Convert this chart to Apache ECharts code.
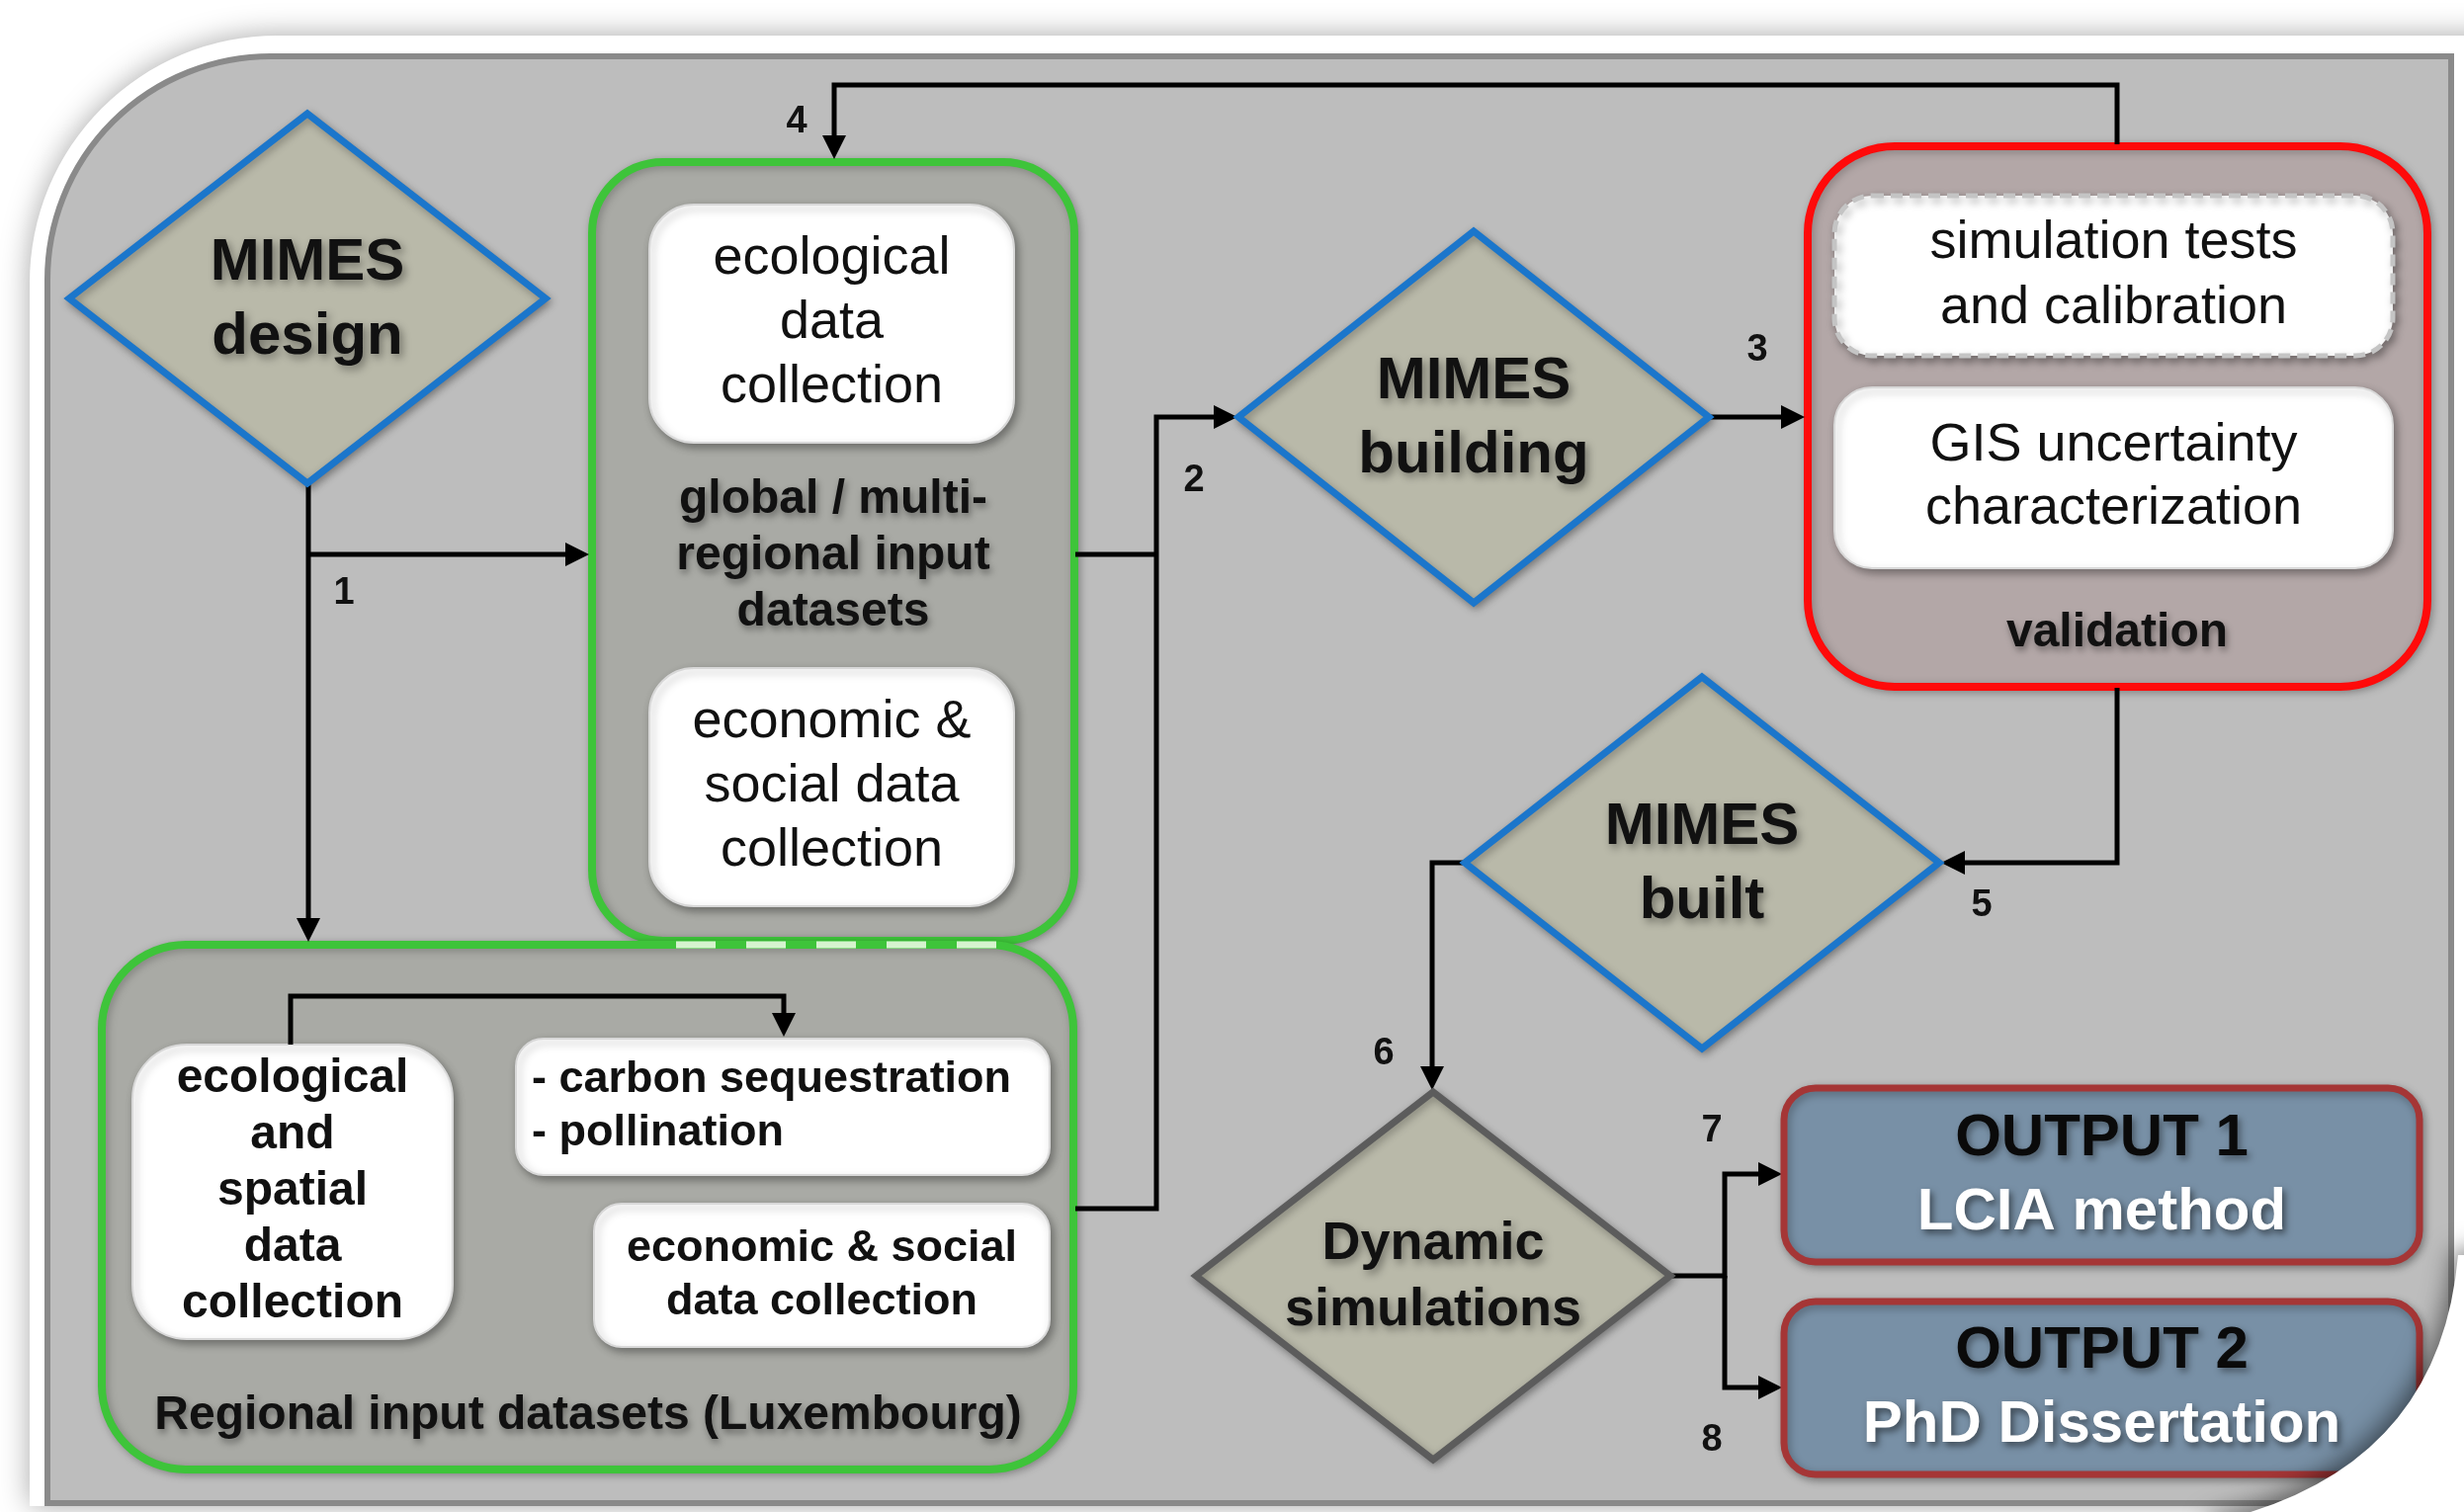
<!DOCTYPE html>
<html>
<head>
<meta charset="utf-8">
<title>MIMES workflow</title>
<script src="https://cdn.jsdelivr.net/npm/echarts@6.0.0/dist/echarts.min.js"></script>
<style>
html, body { margin: 0; padding: 0; background: #fff; }
#main { width: 2493px; height: 1530px; }
</style>
</head>
<body>
<div id="main"></div>
<script>
// ---- text content ----
var diamondLabels = ['MIMES\ndesign', 'MIMES\nbuilding', 'MIMES\nbuilt', 'Dynamic\nsimulations'];
var groupLabels = ['global / multi-\nregional input\ndatasets', 'Regional input datasets (Luxembourg)', 'validation'];
var boxLabels = [
	'ecological\ndata\ncollection',
	'economic &\nsocial data\ncollection',
	'ecological\nand\nspatial\ndata\ncollection',
	'- carbon sequestration\n- pollination',
	'economic & social\ndata collection',
	'simulation tests\nand calibration',
	'GIS uncertainty\ncharacterization'
];
var outputTitles = ['OUTPUT 1', 'OUTPUT 2'];
var outputLabels = ['LCIA method', 'PhD Dissertation'];
var stepLabels = ['1', '2', '3', '4', '5', '6', '7', '8'];

// ---- layout (diagram units, mapped through the hidden axes) ----
var diamondPos = [[311, 302, 241, 187], [1491, 422, 238, 188], [1722, 873, 240, 188], [1450, 1291, 240, 186]];
var diamondFont = [60, 60, 60, 54];
var diamondStroke = ['#1b76cb', '#1b76cb', '#1b76cb', '#5c5c5c'];
var groupPos = [[599, 164, 1087, 952], [103, 956, 1086, 1487], [1829, 148, 2456, 695]];
var groupRadius = [72, 85, 88];
var groupStroke = ['#3ec43a', '#3ec43a', '#ff0a0a'];
var groupFill = ['#a9aaa5', '#a9aaa5', '#b3a7a7'];
var groupLabelPos = [[843, 563], [595, 1433], [2142, 641]];
var boxPos = [[657, 207, 1026, 448], [657, 676, 1026, 917], [134, 1057, 458, 1355], [522, 1051, 1062, 1189],
	[601, 1218, 1062, 1363], [1856, 198, 2421, 360], [1856, 392, 2421, 575]];
var boxRadius = [45, 45, 55, 28, 28, 38, 38];
var boxFont = ['54px', '54px', 'bold 48px', 'bold 45px', 'bold 45px', '54px', '54px'];
var boxLine = [65, 65, 57, 54, 54, 66, 64];
var boxAlign = ['center', 'center', 'center', 'left', 'center', 'center', 'center'];
var boxDashed = [false, false, false, false, false, true, false];
var outputPos = [[1805, 1101, 2448, 1277], [1805, 1317, 2448, 1492]];
var stepPos = [[348, 601], [1208, 487], [1778, 355], [806, 124], [2005, 917], [1400, 1067], [1732, 1145], [1732, 1458]];
var links = [
	[[312, 490], [312, 953]],
	[[312, 561], [596, 561]],
	[[1088, 561], [1170, 561]],
	[[1088, 1223], [1170, 1223], [1170, 422], [1252, 422]],
	[[1729, 422], [1826, 422]],
	[[2142, 146], [2142, 86], [844, 86], [844, 161]],
	[[2142, 696], [2142, 873], [1964, 873]],
	[[1482, 873], [1449, 873], [1449, 1103]],
	[[1690, 1291], [1745, 1291], [1745, 1188], [1803, 1188]],
	[[1745, 1291], [1745, 1404], [1803, 1404]],
	[[294, 1057], [294, 1008], [793, 1008], [793, 1049]]
];
var linkArrow = [true, true, false, true, true, true, true, true, true, true, true];
var seam = [[684, 956], [1010, 956]];
var frameOuter = [30, 36, 2560, 1524];
var framePanel = [48, 57, 2480, 1521];
var curl = [[2487, 1270], [2468, 1488], [2240, 1540]];

var FONT = '"Liberation Sans", Arial, sans-serif';
var SHADOW = 'rgba(0,0,0,0.38)';

var chartDom = document.getElementById('main');
var myChart = echarts.init(chartDom);

function rectOf(api, b, r) {
	var p1 = api.coord([b[0], b[1]]);
	var p2 = api.coord([b[2], b[3]]);
	return { x: p1[0], y: p1[1], width: p2[0] - p1[0], height: p2[1] - p1[1], r: r };
}

function idx(arr) {
	return arr.map(function(d, i) { return [d[0], d[1], i]; });
}

function renderFrame(params, api) {
	return {
		type: 'group',
		children: [
			{ type: 'rect', shape: rectOf(api, frameOuter, [250, 0, 0, 0]),
				style: { fill: '#fff', shadowBlur: 30, shadowColor: 'rgba(0,0,0,0.35)' } },
			{ type: 'rect', shape: rectOf(api, framePanel, [226, 0, 0, 0]),
				style: { fill: '#bdbdbd', stroke: '#8a8a8a', lineWidth: 6 } }
		]
	};
}

// page curl on the lower right corner, drawn above everything
function renderCurl(params, api) {
	var a = api.coord(curl[0]), c = api.coord(curl[1]), e = api.coord(curl[2]);
	var corner = api.coord([2560, 1580]);
	return { type: 'path', shape: {
			pathData: 'M' + a[0] + ' ' + a[1] + ' Q' + c[0] + ' ' + c[1] + ' ' + e[0] + ' ' + e[1] +
				' L' + e[0] + ' ' + corner[1] + ' L' + corner[0] + ' ' + corner[1] + ' L' + corner[0] + ' ' + a[1] + ' Z'
		},
		style: { fill: '#fff', shadowBlur: 24, shadowColor: 'rgba(0,0,0,0.5)', shadowOffsetX: -5, shadowOffsetY: -5 } };
}

function renderGroup(params, api) {
	var i = api.value(2);
	var lp = api.coord(groupLabelPos[i]);
	var children = [
		{ type: 'rect', shape: rectOf(api, groupPos[i], groupRadius[i]),
			style: { fill: groupFill[i], stroke: groupStroke[i], lineWidth: 8,
				shadowBlur: 8, shadowColor: 'rgba(0,0,0,0.25)', shadowOffsetX: 2, shadowOffsetY: 2 } },
		{ type: 'text', style: { text: groupLabels[i], x: lp[0], y: lp[1], align: 'center', verticalAlign: 'middle',
			font: 'bold 48px ' + FONT, lineHeight: 57, fill: '#111',
			textShadowColor: SHADOW, textShadowBlur: 7, textShadowOffsetX: 2, textShadowOffsetY: 4 } }
	];
	if (i === 1) {
		children.push({ type: 'polyline', shape: { points: [api.coord(seam[0]), api.coord(seam[1])] },
			style: { stroke: '#d6f3cf', lineWidth: 7, lineDash: [40, 31] } });
	}
	return { type: 'group', children: children };
}

function renderBox(params, api) {
	var i = api.value(2);
	var b = boxPos[i];
	var shape = rectOf(api, b, boxRadius[i]);
	var tx = boxAlign[i] === 'left' ? shape.x + 16 : shape.x + shape.width / 2;
	return {
		type: 'group',
		children: [
			{ type: 'rect', shape: shape,
				style: { fill: '#fff', stroke: boxDashed[i] ? '#c4c4c4' : '#d8d8d8', lineWidth: boxDashed[i] ? 5 : 2,
					lineDash: boxDashed[i] ? [12, 7] : null,
					shadowBlur: 8, shadowColor: 'rgba(0,0,0,0.35)', shadowOffsetX: 3, shadowOffsetY: 4 } },
			{ type: 'text', style: { text: boxLabels[i], x: tx, y: shape.y + shape.height / 2,
				align: boxAlign[i], verticalAlign: 'middle', font: boxFont[i] + ' ' + FONT,
				lineHeight: boxLine[i], fill: '#111' } }
		]
	};
}

function renderLink(params, api) {
	var i = api.value(2);
	var pts = links[i].map(function(p) { return api.coord(p); });
	var children = [];
	if (linkArrow[i]) {
		var n = pts.length;
		var tip = pts[n - 1], prev = pts[n - 2];
		var dx = tip[0] - prev[0], dy = tip[1] - prev[1];
		var len = Math.sqrt(dx * dx + dy * dy);
		var ux = dx / len, uy = dy / len;
		var al = 24, aw = 12;
		var base = [tip[0] - ux * al, tip[1] - uy * al];
		pts = pts.slice(0, n - 1).concat([[base[0] + ux * 2, base[1] + uy * 2]]);
		children.push({ type: 'polygon', shape: { points: [tip, [base[0] - uy * aw, base[1] + ux * aw], [base[0] + uy * aw, base[1] - ux * aw]] },
			style: { fill: '#000' } });
	}
	children.unshift({ type: 'polyline', shape: { points: pts },
		style: { stroke: '#000', lineWidth: 5, fill: null, lineJoin: 'miter' } });
	return { type: 'group', children: children };
}

function renderDiamond(params, api) {
	var i = api.value(2);
	var d = diamondPos[i];
	var c = api.coord([d[0], d[1]]);
	var pts = [api.coord([d[0], d[1] - d[3]]), api.coord([d[0] + d[2], d[1]]),
		api.coord([d[0], d[1] + d[3]]), api.coord([d[0] - d[2], d[1]])];
	return {
		type: 'group',
		children: [
			{ type: 'polygon', shape: { points: pts },
				style: { fill: '#b9b9a9', stroke: diamondStroke[i], lineWidth: 7, lineJoin: 'miter',
					shadowBlur: 8, shadowColor: 'rgba(0,0,0,0.3)', shadowOffsetX: 2, shadowOffsetY: 3 } },
			{ type: 'text', style: { text: diamondLabels[i], x: c[0], y: c[1] + 2, align: 'center', verticalAlign: 'middle',
				font: 'bold ' + diamondFont[i] + 'px ' + FONT, lineHeight: diamondFont[i] * 1.24, fill: '#111',
				textShadowColor: SHADOW, textShadowBlur: 8, textShadowOffsetX: 3, textShadowOffsetY: 4 } }
		]
	};
}

function renderOutput(params, api) {
	var i = api.value(2);
	var shape = rectOf(api, outputPos[i], 32);
	var cx = shape.x + shape.width / 2, cy = shape.y + shape.height / 2;
	return {
		type: 'group',
		children: [
			{ type: 'rect', shape: shape,
				style: { fill: '#7890a6', stroke: '#a53636', lineWidth: 7,
					shadowBlur: 8, shadowColor: 'rgba(0,0,0,0.3)', shadowOffsetX: 2, shadowOffsetY: 3 } },
			{ type: 'text', style: { text: outputTitles[i], x: cx, y: cy - 37, align: 'center', verticalAlign: 'middle',
				font: 'bold 60px ' + FONT, fill: '#0a0a0a',
				textShadowColor: SHADOW, textShadowBlur: 7, textShadowOffsetX: 3, textShadowOffsetY: 4 } },
			{ type: 'text', style: { text: outputLabels[i], x: cx, y: cy + 38, align: 'center', verticalAlign: 'middle',
				font: 'bold 60px ' + FONT, fill: '#fff',
				textShadowColor: 'rgba(0,0,0,0.5)', textShadowBlur: 7, textShadowOffsetX: 3, textShadowOffsetY: 4 } }
		]
	};
}

function renderStep(params, api) {
	var i = api.value(2);
	var p = api.coord(stepPos[i]);
	return { type: 'text', style: { text: stepLabels[i], x: p[0], y: p[1], align: 'center', verticalAlign: 'middle',
		font: 'bold 38px ' + FONT, fill: '#111' } };
}

function customSeries(data, fn, z) {
	return { type: 'custom', data: data, renderItem: fn, z: z, silent: true, clip: false,
		encode: { x: 0, y: 1 } };
}

var option = {
	backgroundColor: '#fff',
	animation: false,
	grid: { left: 0, right: 0, top: 0, bottom: 0 },
	xAxis: { type: 'value', min: 0, max: 2493, show: false },
	yAxis: { type: 'value', min: 0, max: 1530, inverse: true, show: false },
	series: [
		customSeries([[0, 0, 0]], renderFrame, 1),
		customSeries(idx(groupPos), renderGroup, 2),
		customSeries(idx(boxPos), renderBox, 3),
		customSeries(links.map(function(l, i) { return [l[0][0], l[0][1], i]; }), renderLink, 4),
		customSeries(idx(diamondPos), renderDiamond, 5),
		customSeries(idx(outputPos), renderOutput, 5),
		customSeries(idx(stepPos), renderStep, 6),
		customSeries([[curl[0][0], curl[0][1], 0]], renderCurl, 10)
	]
};

myChart.setOption(option);
</script>
</body>
</html>
